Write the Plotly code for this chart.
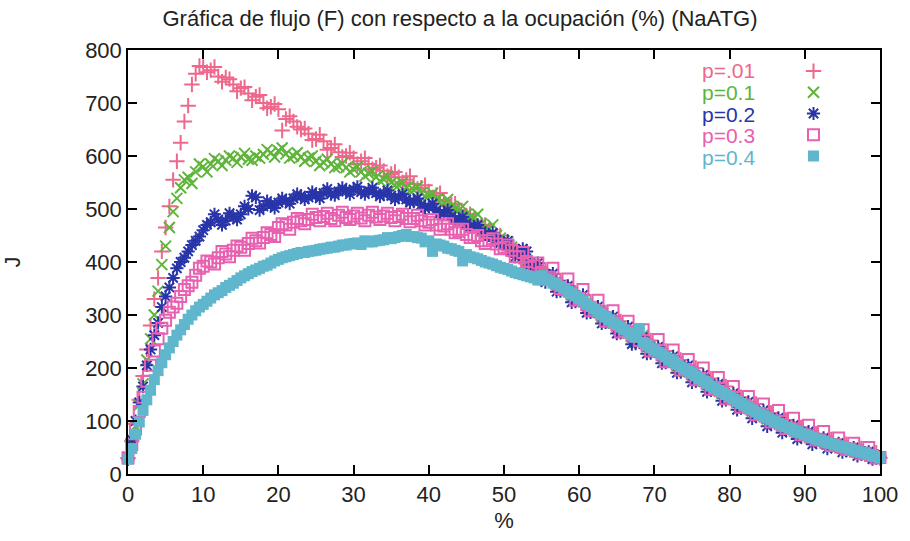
import plotly.graph_objects as go

# occupancy (%) sampled at integer steps and at half steps
occupancy = list(range(0, 101))
occupancy_half = [i + 0.5 for i in range(0, 100)]

labels = ["p=.01", "p=0.1", "p=0.2", "p=0.3", "p=0.4"]

j_p001 = [30, 95, 185, 280, 370, 465, 555, 625, 695, 755, 768, 762, 750, 748, 735, 728, 718, 712, 700, 693,
          688, 670, 665, 650, 642, 632, 628, 615, 607, 600, 596, 590, 585, 578, 572, 566, 560, 555, 547, 540,
          533, 526, 517, 508, 498, 488, 478, 468, 458, 447, 437, 425, 410, 404, 390, 384, 368, 362, 347, 343,
          328, 322, 308, 303, 288, 284, 270, 264, 250, 246, 238, 222, 219, 205, 200, 192, 178, 174, 160, 157,
          144, 140, 127, 124, 111, 108, 97, 95, 84, 82, 72, 71, 62, 61, 53, 52, 45, 44, 37, 36, 30]
j_p001_h = [62, 140, 235, 330, 420, 505, 590, 665, 735, 770, 758, 768, 740, 745, 722, 730, 705, 715, 690, 698,
            648, 675, 655, 652, 630, 640, 612, 622, 598, 606, 585, 596, 575, 582, 562, 570, 550, 562, 538, 545,
            522, 530, 505, 510, 485, 490, 465, 470, 445, 450, 425, 422, 400, 402, 378, 385, 360, 365, 338, 342,
            318, 325, 298, 305, 280, 288, 262, 270, 246, 252, 225, 232, 208, 215, 190, 200, 173, 180, 158, 165,
            140, 145, 125, 132, 110, 115, 96, 102, 83, 88, 72, 76, 62, 65, 52, 56, 45, 48, 38, 40]

j_p01 = [32, 90, 170, 255, 345, 430, 495, 540, 560, 570, 580, 585, 590, 592, 596, 598, 594, 600, 603, 606,
         610, 604, 600, 598, 596, 590, 588, 585, 580, 578, 575, 570, 567, 560, 556, 550, 545, 540, 536, 530,
         525, 518, 512, 505, 498, 490, 482, 472, 462, 450, 440, 428, 414, 400, 395, 380, 373, 358, 352, 338,
         333, 318, 312, 298, 293, 279, 274, 259, 255, 240, 237, 223, 218, 205, 201, 187, 183, 169, 165, 152,
         148, 135, 131, 119, 116, 104, 101, 90, 88, 78, 76, 67, 66, 57, 56, 49, 48, 41, 40, 33, 32]
j_p01_h = [58, 130, 215, 300, 395, 465, 520, 555, 548, 585, 570, 595, 582, 600, 588, 605, 592, 596, 612, 598,
           615, 596, 606, 590, 600, 582, 594, 578, 586, 570, 580, 562, 572, 553, 562, 545, 550, 535, 542, 524,
           530, 512, 518, 500, 505, 485, 490, 465, 470, 445, 438, 420, 410, 396, 390, 372, 368, 350, 346, 330,
           327, 308, 305, 290, 285, 270, 266, 250, 262, 232, 230, 214, 212, 196, 194, 178, 176, 160, 168, 145,
           142, 128, 126, 113, 112, 99, 98, 86, 85, 74, 73, 64, 63, 55, 54, 47, 46, 40, 38, 33]

j_p02 = [28, 100, 165, 235, 285, 335, 370, 400, 420, 440, 460, 475, 480, 478, 485, 490, 500, 522, 505, 508,
         512, 515, 520, 525, 522, 526, 530, 528, 533, 535, 537, 532, 534, 530, 528, 525, 522, 518, 514, 508,
         503, 498, 492, 487, 480, 473, 466, 458, 450, 442, 433, 420, 415, 420, 388, 366, 374, 344, 353, 324,
         333, 304, 313, 284, 293, 265, 274, 245, 255, 227, 236, 209, 218, 191, 200, 173, 182, 155, 164, 138,
         148, 121, 131, 105, 115, 90, 100, 78, 87, 66, 75, 56, 65, 48, 55, 41, 47, 34, 40, 28, 33]
j_p02_h = [65, 135, 205, 262, 315, 352, 388, 408, 432, 448, 470, 490, 470, 492, 480, 505, 525, 498, 515, 502,
           520, 510, 528, 518, 532, 520, 538, 526, 540, 528, 542, 528, 540, 524, 535, 518, 528, 512, 520, 502,
           510, 492, 498, 480, 485, 466, 470, 452, 455, 436, 440, 410, 425, 395, 398, 362, 378, 345, 355, 325,
           338, 305, 316, 286, 297, 266, 278, 246, 258, 228, 240, 210, 222, 192, 205, 175, 187, 158, 170, 140,
           152, 125, 136, 110, 120, 96, 106, 84, 92, 72, 80, 62, 68, 52, 58, 44, 50, 38, 42, 30]

j_p03 = [30, 85, 145, 205, 255, 290, 315, 335, 355, 375, 392, 400, 408, 415, 422, 428, 435, 440, 446, 452,
         465, 470, 475, 478, 480, 484, 486, 482, 488, 484, 487, 483, 488, 485, 487, 484, 486, 482, 482, 478,
         475, 470, 468, 462, 458, 452, 446, 440, 440, 434, 428, 422, 410, 401, 393, 380, 371, 360, 348, 341,
         331, 320, 309, 302, 289, 282, 270, 262, 252, 244, 234, 226, 215, 209, 197, 191, 180, 172, 163, 156,
         146, 138, 130, 122, 114, 107, 100, 93, 86, 81, 74, 70, 64, 60, 55, 51, 47, 43, 39, 35, 31]
j_p03_h = [55, 118, 175, 232, 275, 305, 322, 348, 362, 388, 402, 396, 420, 410, 430, 422, 445, 436, 455, 448,
           472, 462, 482, 472, 490, 478, 492, 478, 494, 480, 492, 478, 494, 480, 492, 478, 490, 476, 488, 470,
           480, 462, 472, 455, 462, 446, 450, 435, 444, 425, 432, 410, 418, 390, 398, 368, 388, 350, 368, 328,
           348, 308, 328, 288, 308, 268, 288, 260, 272, 232, 254, 212, 234, 196, 216, 178, 200, 160, 182, 142,
           165, 126, 146, 112, 132, 98, 120, 86, 105, 74, 92, 64, 80, 54, 68, 46, 58, 38, 50, 30]

j_p04 = [28, 75, 120, 158, 195, 225, 250, 272, 292, 308, 320, 332, 342, 352, 360, 370, 378, 385, 392, 398,
         405, 410, 414, 418, 420, 422, 425, 428, 430, 432, 435, 433, 438, 440, 442, 444, 448, 452, 448, 445,
         440, 434, 430, 425, 420, 414, 408, 403, 398, 393, 388, 383, 378, 374, 370, 374, 365, 358, 350, 340,
         331, 321, 311, 300, 291, 282, 272, 262, 274, 243, 234, 226, 216, 207, 198, 190, 180, 171, 162, 154,
         146, 137, 129, 121, 113, 106, 99, 92, 86, 80, 74, 69, 64, 59, 55, 51, 47, 43, 39, 35, 31]
j_p04_h = [48, 98, 140, 178, 210, 238, 262, 282, 300, 315, 326, 338, 346, 356, 365, 374, 382, 388, 394, 402,
           408, 412, 416, 418, 421, 424, 426, 428, 432, 434, 436, 440, 438, 441, 446, 446, 450, 448, 446, 438,
           420, 432, 426, 422, 402, 410, 406, 400, 396, 390, 386, 380, 376, 372, 366, 368, 360, 354, 345, 336,
           326, 316, 306, 296, 286, 277, 267, 258, 248, 238, 230, 221, 212, 202, 194, 185, 176, 166, 158, 150,
           142, 133, 125, 117, 110, 102, 96, 89, 83, 77, 72, 66, 62, 57, 53, 49, 45, 41, 37, 33]

series = [(j_p001, j_p001_h), (j_p01, j_p01_h), (j_p02, j_p02_h), (j_p03, j_p03_h), (j_p04, j_p04_h)]
colors = ["rgb(238,104,140)", "rgb(96,180,60)", "rgb(40,52,168)", "rgb(232,96,176)", "rgb(96,182,204)"]
symbols = ["cross-thin-open", "x-thin-open", "asterisk-open", "square-open", "square"]
sizes = [11, 11, 11, 11, 11]

FONT = "Liberation Sans, Arial, Helvetica"

fig = go.Figure()
for (vals, vals_h), col, sym, sz in zip(series, colors, symbols, sizes):
    marker = dict(symbol=sym, size=sz, color=col, line=dict(color=col, width=2))
    if sym == "square":
        marker["line"] = dict(width=0)
    fig.add_trace(go.Scatter(x=occupancy + occupancy_half, y=vals + vals_h, mode="markers",
                             marker=marker, name=" ", showlegend=True, cliponaxis=False))

# legend labels as coloured text, right-aligned, to the left of the legend symbols
for i, (lab, col) in enumerate(zip(labels, colors)):
    fig.add_annotation(text=lab, xref="paper", yref="paper", x=0.837, y=0.9507 - i * 0.0509,
                       xanchor="right", yanchor="middle", showarrow=False,
                       font=dict(family=FONT, size=21, color=col))

axis_common = dict(showline=True, linecolor="black", linewidth=1.5, mirror="allticks",
                   ticks="inside", ticklen=9, tickwidth=1.5, tickcolor="black",
                   showgrid=False, zeroline=False,
                   tickfont=dict(family=FONT, size=22, color="#222"))

fig.update_layout(
    width=910, height=541,
    margin=dict(l=128, r=27, t=50, b=65),
    paper_bgcolor="white", plot_bgcolor="white",
    title=dict(text="Gráfica de flujo (F) con respecto a la ocupación (%) (NaATG)",
               x=0.5055, xanchor="center", y=0.966, yanchor="middle",
               font=dict(family=FONT, size=22, color="#222")),
    xaxis=dict(range=[0, 100], dtick=10, title=dict(text="%", standoff=6,
               font=dict(family=FONT, size=22, color="#222")), **axis_common),
    yaxis=dict(range=[0, 800], dtick=100, title=dict(text="J", standoff=58,
               font=dict(family=FONT, size=22, color="#222")), **axis_common),
    legend=dict(x=0.885, y=0.987, xanchor="left", yanchor="top", bgcolor="rgba(0,0,0,0)",
                font=dict(size=14), itemwidth=30, tracegroupgap=0),
    showlegend=True,
)

fig.write_html("out.html")
